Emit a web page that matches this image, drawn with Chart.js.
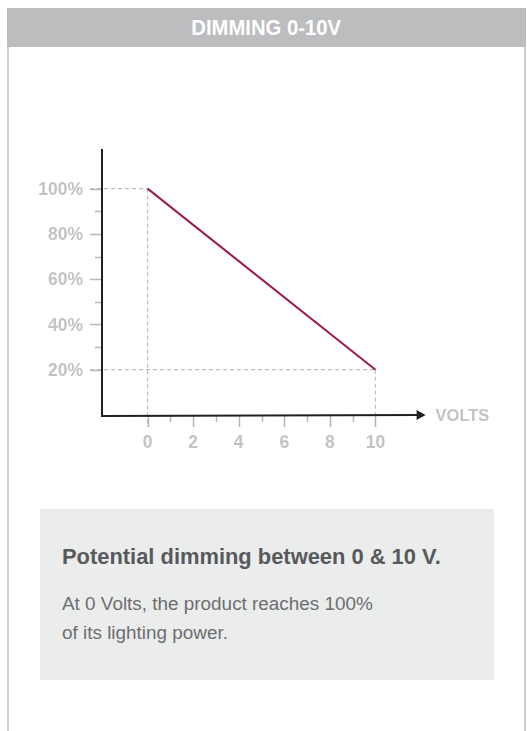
<!DOCTYPE html>
<html>
<head>
<meta charset="utf-8">
<script src="https://cdn.jsdelivr.net/npm/chart.js@4"></script>
<style>
  html, body { margin: 0; padding: 0; background: #fff; }
  body { width: 527px; height: 731px; position: relative; overflow: hidden; font-family: "Liberation Sans", Arial, sans-serif; }
  .card { position: absolute; left: 7px; top: 8px; width: 515px; height: 740px; border-left: 2px solid #cfd0d1; border-right: 2px solid #cfd0d1; }
  .head { position: absolute; left: 7px; top: 8px; width: 519px; height: 39px; background: #bcbdbf; color: #fff;
          font-family: "Liberation Sans", Arial, sans-serif; font-weight: bold; font-size: 22.5px;
          line-height: 39px; text-align: center; }
  .head span { display: inline-block; transform: scaleX(0.9); transform-origin: center; }
  .chartwrap { position: absolute; left: 0; top: 0; width: 527px; height: 500px; }
  .box { position: absolute; left: 40px; top: 509px; width: 454px; height: 171px; background: #ebecec; }
  .box h2 { position: absolute; left: 22px; top: 35px; margin: 0; font-size: 21.9px; font-weight: bold; color: #58595b; white-space: nowrap; }
  .box p { position: absolute; left: 22px; top: 81px; margin: 0; font-size: 18.9px; line-height: 28.5px; color: #6d6e70; }
</style>
</head>
<body>
<div class="card"></div>
<div class="head"><span>DIMMING 0-10V</span></div>
<div class="chartwrap"><canvas id="c" width="527" height="500"></canvas></div>
<div class="box">
  <h2>Potential dimming between 0 &amp; 10 V.</h2>
  <p>At 0 Volts, the product reaches 100%<br>of its lighting power.</p>
</div>
<script>
// ---- data ----
const volts = [0, 10];
const lightLevel = [100, 20];
const xMajorTicks = [0, 2, 4, 6, 8, 10];
const xMinorTicks = [1, 3, 5, 7, 9];
const yMajorTicks = [20, 40, 60, 80, 100];
const yMajorLabels = ['20%', '40%', '60%', '80%', '100%'];
const yMinorTicks = [30, 50, 70, 90];
const xAxisTitle = 'VOLTS';

const LABEL_COLOR = '#c2c3c4';
const TICK_COLOR = '#b5b6b7';
const GUIDE_COLOR = '#bdbebf';
const AXIS_COLOR = '#231f20';

const axesPlugin = {
  id: 'customAxes',
  beforeDatasetsDraw(chart) {
    const ctx = chart.ctx;
    const xs = chart.scales.x, ys = chart.scales.y;
    const area = chart.chartArea;
    const left = area.left, bottom = area.bottom;
    ctx.save();
    // dashed guide lines from the data end points
    ctx.strokeStyle = GUIDE_COLOR;
    ctx.lineWidth = 1.2;
    ctx.setLineDash([4, 3]);
    volts.forEach((v, i) => {
      const px = xs.getPixelForValue(v);
      const py = ys.getPixelForValue(lightLevel[i]);
      ctx.beginPath();
      ctx.moveTo(left - 12, py);
      ctx.lineTo(px, py);
      ctx.stroke();
      ctx.beginPath();
      ctx.moveTo(px, py);
      ctx.lineTo(px, bottom + 12);
      ctx.stroke();
    });
    ctx.setLineDash([]);
    // tick marks
    ctx.strokeStyle = TICK_COLOR;
    ctx.lineWidth = 1.5;
    xMajorTicks.forEach(v => {
      const px = Math.round(xs.getPixelForValue(v)) + 0.5;
      ctx.beginPath(); ctx.moveTo(px, bottom); ctx.lineTo(px, bottom + 12); ctx.stroke();
    });
    xMinorTicks.forEach(v => {
      const px = Math.round(xs.getPixelForValue(v)) + 0.5;
      ctx.beginPath(); ctx.moveTo(px, bottom); ctx.lineTo(px, bottom + 7); ctx.stroke();
    });
    yMajorTicks.forEach(v => {
      const py = Math.round(ys.getPixelForValue(v)) + 0.5;
      ctx.beginPath(); ctx.moveTo(left - 12, py); ctx.lineTo(left, py); ctx.stroke();
    });
    yMinorTicks.forEach(v => {
      const py = Math.round(ys.getPixelForValue(v)) + 0.5;
      ctx.beginPath(); ctx.moveTo(left - 7, py); ctx.lineTo(left, py); ctx.stroke();
    });
    // axes
    ctx.strokeStyle = AXIS_COLOR;
    ctx.fillStyle = AXIS_COLOR;
    ctx.lineWidth = 2;
    ctx.beginPath();
    ctx.moveTo(left, area.top);
    ctx.lineTo(left, bottom + 1);
    ctx.lineTo(area.right - 8, bottom);
    ctx.stroke();
    ctx.beginPath();
    ctx.moveTo(area.right, bottom);
    ctx.lineTo(area.right - 9, bottom - 5);
    ctx.lineTo(area.right - 9, bottom + 5);
    ctx.closePath();
    ctx.fill();
    // labels
    ctx.fillStyle = LABEL_COLOR;
    ctx.font = 'bold 17.5px "Liberation Sans", Arial, sans-serif';
    ctx.textAlign = 'center';
    ctx.textBaseline = 'middle';
    xMajorTicks.forEach(v => {
      ctx.fillText(String(v), xs.getPixelForValue(v), bottom + 28.5);
    });
    ctx.textAlign = 'right';
    yMajorTicks.forEach((v, i) => {
      ctx.fillText(yMajorLabels[i], left - 19, ys.getPixelForValue(v) + 1.5);
    });
    ctx.textAlign = 'left';
    ctx.font = 'bold 16.5px "Liberation Sans", Arial, sans-serif';
    ctx.fillText(xAxisTitle, area.right + 10, bottom + 1);
    ctx.restore();
  }
};

new Chart(document.getElementById('c'), {
  type: 'line',
  data: {
    datasets: [{
      data: volts.map((v, i) => ({ x: v, y: lightLevel[i] })),
      borderColor: '#9d1c44',
      borderWidth: 2,
      pointRadius: 0,
      tension: 0,
      fill: false
    }]
  },
  options: {
    responsive: false,
    animation: false,
    events: [],
    layout: { padding: { left: 102, top: 149, right: 101.4, bottom: 85 } },
    plugins: { legend: { display: false }, tooltip: { enabled: false }, title: { display: false } },
    scales: {
      x: { type: 'linear', min: -2, max: 12.2, display: false },
      y: { type: 'linear', min: 0, max: 117.5, display: false }
    }
  },
  plugins: [axesPlugin]
});
</script>
</body>
</html>
